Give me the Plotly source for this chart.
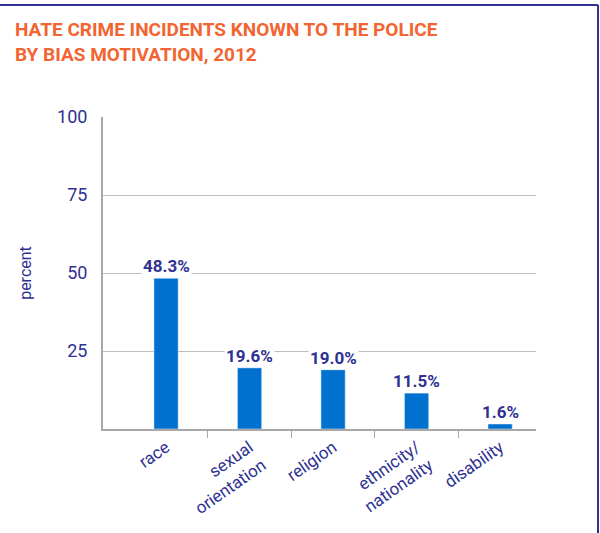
"""
Hate crime incidents known to the police by bias motivation, 2012.
"""

import plotly.graph_objects as go

categories = ["race", "sexual<br>orientation", "religion", "ethnicity/<br>nationality", "disability"]
percent_values = [48.3, 19.6, 19.0, 11.5, 1.6]
y_tick_values = [25, 50, 75, 100]

NAVY = "#2E3192"
ORANGE = "#F26430"
BAR_BLUE = "#0071CE"
GRID = "#BDBDBD"
FONT = "Roboto, Liberation Sans, sans-serif"

# plot area in pixels (from the reference)
L, R, T, B = 103, 64, 117, 104
PW, PH = 600 - L - R, 533 - T - B

positions = list(range(len(categories)))

fig = go.Figure()
fig.add_trace(go.Bar(
    x=positions,
    y=percent_values,
    width=0.29,
    marker_color=BAR_BLUE,
    hoverinfo="skip",
))

# value labels with white background (cuts the gridline like the original)
for pos, val in zip(positions, percent_values):
    fig.add_annotation(
        x=pos, y=val, text=f"<b>{val:.1f}%</b>",
        showarrow=False, yanchor="bottom", yshift=0,
        bgcolor="white", borderpad=1,
        font=dict(family=FONT, size=17, color=NAVY),
    )

# two-line title
fig.add_annotation(
    xref="paper", yref="paper",
    x=(13 - L) / PW, y=(T + PH - 16) / PH,
    xanchor="left", yanchor="top", align="left",
    text="<b>HATE CRIME INCIDENTS KNOWN TO THE POLICE<br>BY BIAS MOTIVATION, 2012</b>",
    showarrow=False,
    font=dict(family=FONT, size=19, color=ORANGE),
)

fig.update_layout(
    width=600, height=533,
    margin=dict(l=L, r=R, t=T, b=B),
    paper_bgcolor="white",
    plot_bgcolor="white",
    showlegend=False,
    xaxis=dict(
        range=[-0.755, 4.43],
        tickvals=positions,
        ticktext=categories,
        tickangle=-35,
        ticks="",
        showgrid=False,
        automargin=False,
        showline=True, linecolor="#A8A8A8", linewidth=2,
        tickfont=dict(family=FONT, size=17, color=NAVY),
        minor=dict(tickvals=[0.5, 1.5, 2.5, 3.5], ticks="outside",
                   ticklen=7, tickcolor="#A8A8A8", tickwidth=1, showgrid=False),
        zeroline=False,
    ),
    yaxis=dict(
        range=[0, 100],
        tickvals=y_tick_values,
        showgrid=True, gridcolor=GRID, gridwidth=1,
        automargin=False,
        showline=True, linecolor="#A8A8A8", linewidth=2,
        ticks="", ticklabelstandoff=10,
        tickfont=dict(family=FONT, size=18, color=NAVY),
        title=dict(text="percent", standoff=21,
                   font=dict(family=FONT, size=16, color=NAVY)),
        zeroline=False,
    ),
)

# navy frame along the top and right edges
fig.add_shape(type="line", xref="paper", yref="paper",
              x0=-L / PW, x1=(598 - L) / PW, y0=(T + PH - 5) / PH, y1=(T + PH - 5) / PH,
              line=dict(color=NAVY, width=2))
fig.add_shape(type="line", xref="paper", yref="paper",
              x0=(598 - L) / PW, x1=(598 - L) / PW, y0=(T + PH - 5) / PH, y1=-B / PH,
              line=dict(color=NAVY, width=2))

fig.write_html("out.html", config={"displayModeBar": False},
               post_script="document.body.style.margin='0';")
